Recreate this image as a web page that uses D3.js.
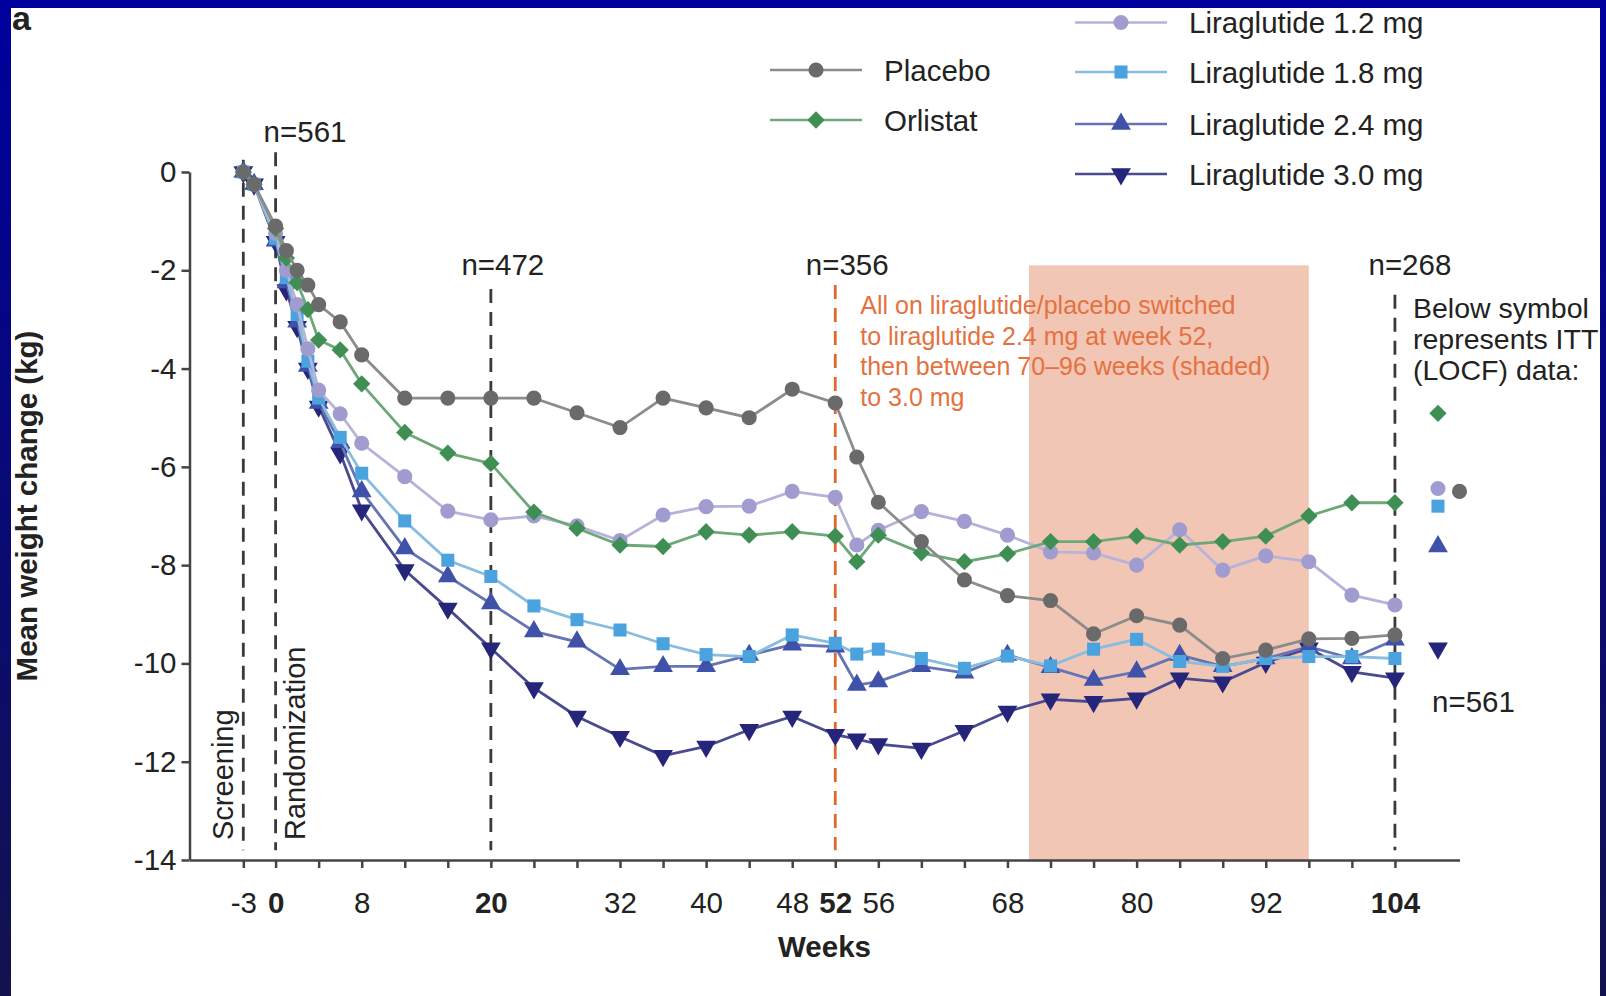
<!DOCTYPE html>
<html>
<head>
<meta charset="utf-8">
<script src="https://cdn.jsdelivr.net/npm/d3@7"></script>
<style>
  body { margin: 0; background: #fff; }
  svg { display: block; font-family: "Liberation Sans", Arial, Helvetica, sans-serif; }
</style>
</head>
<body>
<div id="chart"></div>
<script>
// visit weeks (shared by all arms)
const weeks = [-3, -2, 0, 1, 2, 3, 4, 6, 8, 12, 16, 20, 24, 28, 32, 36, 40, 44, 48, 52, 54, 56, 60, 64, 68, 72, 76, 80, 84, 88, 92, 96, 100, 104];

// mean weight change (kg)
const placebo = [0, -0.25, -1.1, -1.6, -2.0, -2.3, -2.7, -3.05, -3.72, -4.6, -4.6, -4.6, -4.6, -4.9, -5.2, -4.6, -4.8, -5.0, -4.42, -4.7, -5.8, -6.72, -7.52, -8.3, -8.62, -8.72, -9.4, -9.03, -9.22, -9.9, -9.73, -9.5, -9.49, -9.42];
const orlistat = [0, -0.25, -1.15, -1.75, -2.25, -2.8, -3.42, -3.62, -4.31, -5.3, -5.72, -5.93, -6.92, -7.25, -7.59, -7.62, -7.32, -7.39, -7.32, -7.41, -7.93, -7.39, -7.75, -7.93, -7.77, -7.52, -7.52, -7.41, -7.59, -7.52, -7.41, -7.0, -6.73, -6.73];
const lira12 = [0, -0.25, -1.25, -2.0, -2.7, -3.6, -4.44, -4.92, -5.52, -6.2, -6.9, -7.08, -7.0, -7.2, -7.5, -6.98, -6.81, -6.8, -6.5, -6.62, -7.59, -7.29, -6.91, -7.11, -7.39, -7.73, -7.75, -8.0, -7.28, -8.1, -7.81, -7.93, -8.61, -8.81];
const lira18 = [0, -0.25, -1.35, -2.15, -2.9, -3.85, -4.6, -5.4, -6.13, -7.1, -7.9, -8.23, -8.83, -9.11, -9.32, -9.6, -9.82, -9.86, -9.42, -9.59, -9.81, -9.71, -9.9, -10.1, -9.85, -10.05, -9.71, -9.51, -9.96, -10.06, -9.9, -9.86, -9.86, -9.9];
const lira24 = [0, -0.25, -1.4, -2.25, -3.05, -3.95, -4.7, -5.5, -6.5, -7.66, -8.23, -8.78, -9.35, -9.56, -10.12, -10.06, -10.06, -9.83, -9.62, -9.66, -10.44, -10.37, -10.06, -10.19, -9.83, -10.08, -10.34, -10.17, -9.83, -10.06, -9.9, -9.66, -9.9, -9.52];
const lira30 = [0, -0.25, -1.42, -2.4, -3.15, -4.0, -4.77, -5.72, -6.88, -8.1, -8.88, -9.69, -10.5, -11.08, -11.49, -11.88, -11.69, -11.35, -11.08, -11.45, -11.54, -11.64, -11.73, -11.37, -10.98, -10.73, -10.78, -10.71, -10.3, -10.38, -9.98, -9.69, -10.17, -10.3];

// ITT (LOCF) symbols to the right of week 104
const ittWeeks = { placebo: 110, orlistat: 108, lira12: 108, lira18: 108, lira24: 108, lira30: 108 };
const ittValues = { placebo: -6.5, orlistat: -4.91, lira12: -6.44, lira18: -6.8, lira24: -7.62, lira30: -9.69 };

const xTickWeeks = [-3, 0, 4, 8, 12, 16, 20, 24, 28, 32, 36, 40, 44, 48, 52, 56, 60, 64, 68, 72, 76, 80, 84, 88, 92, 96, 100, 104];
const xTickLabels = [-3, 0, 8, 20, 32, 40, 48, 52, 56, 68, 80, 92, 104];
const boldWeeks = [0, 20, 52, 104];
const yTicks = [0, -2, -4, -6, -8, -10, -12, -14];

const series = [
  { key: "lira30", name: "Liraglutide 3.0 mg", values: lira30, color: "#25257a", line: "#4a4a8e", symbol: "down" },
  { key: "lira24", name: "Liraglutide 2.4 mg", values: lira24, color: "#3f51a8", line: "#6673b5", symbol: "up" },
  { key: "lira18", name: "Liraglutide 1.8 mg", values: lira18, color: "#4aa3df", line: "#88bde0", symbol: "square" },
  { key: "lira12", name: "Liraglutide 1.2 mg", values: lira12, color: "#a09ccf", line: "#b6b3db", symbol: "circle" },
  { key: "orlistat", name: "Orlistat", values: orlistat, color: "#3f8f55", line: "#6ea878", symbol: "diamond" },
  { key: "placebo", name: "Placebo", values: placebo, color: "#6a6a6a", line: "#8c8c8c", symbol: "circle" }
];

const W = 1606, H = 996;
const svg = d3.select("#chart").append("svg").attr("width", W).attr("height", H);

svg.append("rect").attr("width", W).attr("height", H).attr("fill", "#fff");

const x = d3.scaleLinear().domain([-8, 110]).range([189.5, 1459.5]);
const y = d3.scaleLinear().domain([0, -14]).range([172, 860]);

const symbolPath = {
  circle: d3.symbol(d3.symbolCircle, 180)(),
  square: d3.symbol(d3.symbolSquare, 170)(),
  diamond: d3.symbol(d3.symbolSquare, 150)(),
  up: d3.symbol(d3.symbolTriangle, 170)(),
  down: d3.symbol(d3.symbolTriangle, 170)()
};
const symbolRot = { circle: 0, square: 0, diamond: 45, up: 0, down: 180 };

function marker(g, s, px, py) {
  g.append("path")
    .attr("d", symbolPath[s.symbol])
    .attr("transform", `translate(${px},${py}) rotate(${symbolRot[s.symbol]})`)
    .attr("fill", s.color);
}

// shaded 70-96 week period
svg.append("rect")
  .attr("x", x(70))
  .attr("y", y(-1.9))
  .attr("width", x(96) - x(70))
  .attr("height", y(-14) - y(-1.9))
  .attr("fill", "#f2c6b5");

// dashed milestone lines
const milestones = [
  { w: -3, top: 0.25, color: "#3a3a3a" },
  { w: 0, top: 0.4, color: "#3a3a3a" },
  { w: 20, top: -2.38, color: "#3a3a3a" },
  { w: 52, top: -2.3, color: "#e0682e" },
  { w: 104, top: -2.5, color: "#3a3a3a" }
];
svg.selectAll(".milestone")
  .data(milestones)
  .enter()
  .append("line")
  .attr("class", "milestone")
  .attr("x1", d => x(d.w))
  .attr("x2", d => x(d.w))
  .attr("y1", d => y(d.top))
  .attr("y2", y(-13.8))
  .attr("stroke", d => d.color)
  .attr("stroke-width", 2.8)
  .attr("stroke-dasharray", "14,9");

// axes
const xAxis = svg.append("g")
  .attr("transform", `translate(0,${y(-14)})`)
  .call(d3.axisBottom(x)
    .tickValues(xTickWeeks)
    .tickSize(8)
    .tickSizeOuter(0)
    .tickPadding(24)
    .tickFormat(d => xTickLabels.includes(d) ? String(d) : ""));
xAxis.select(".domain").attr("stroke", "#444").attr("stroke-width", 2.5);
xAxis.selectAll(".tick line").attr("stroke", "#444").attr("stroke-width", 2.5);
xAxis.selectAll(".tick text")
  .attr("fill", "#222")
  .style("font-size", "29.5px")
  .style("font-family", "Liberation Sans, Arial, sans-serif")
  .style("font-weight", d => boldWeeks.includes(d) ? "bold" : "normal");

const yAxis = svg.append("g")
  .attr("transform", `translate(${x(-8)},0)`)
  .call(d3.axisLeft(y)
    .tickValues(yTicks)
    .tickSize(8)
    .tickSizeOuter(0)
    .tickPadding(5)
    .tickFormat(d => String(d)));
yAxis.select(".domain").attr("stroke", "#444").attr("stroke-width", 2.5);
yAxis.selectAll(".tick line").attr("stroke", "#444").attr("stroke-width", 2.5);
yAxis.selectAll(".tick text")
  .attr("fill", "#222")
  .style("font-size", "29.5px")
  .style("font-family", "Liberation Sans, Arial, sans-serif");

// data lines and markers
const line = d3.line().x(d => x(d.w)).y(d => y(d.v));
series.forEach(s => {
  const pts = weeks.map((w, i) => ({ w: w, v: s.values[i] }));
  svg.append("path")
    .datum(pts)
    .attr("fill", "none")
    .attr("stroke", s.line)
    .attr("stroke-width", 2.8)
    .attr("d", line);
  const g = svg.append("g");
  pts.forEach(p => marker(g, s, x(p.w), y(p.v)));
  marker(g, s, x(ittWeeks[s.key]), y(ittValues[s.key]));
});

// text helper
function label(txt, px, py, opts) {
  opts = opts || {};
  return svg.append("text")
    .attr("x", px)
    .attr("y", py)
    .attr("fill", opts.fill || "#222")
    .attr("text-anchor", opts.anchor || "start")
    .style("font-size", (opts.size || 29.5) + "px")
    .style("font-weight", opts.weight || "normal")
    .text(txt);
}

// n annotations
label("n=561", x(0) - 12, 142);
label("n=472", x(20) + 12, 275, { anchor: "middle" });
label("n=356", x(52) + 12, 275, { anchor: "middle" });
label("n=268", x(104) + 15, 275, { anchor: "middle" });
label("n=561", 1432, 712);

// switch annotation
const noteLines = [
  "All on liraglutide/placebo switched",
  "to liraglutide 2.4 mg at week 52,",
  "then between 70\u201396 weeks (shaded)",
  "to 3.0 mg"
];
noteLines.forEach((t, i) => label(t, x(52) + 25, 314 + i * 30.7, { size: 25, fill: "#e5713f" }));

// ITT note
["Below symbol", "represents ITT", "(LOCF) data:"].forEach((t, i) => label(t, 1413, 318 + i * 31, { size: 28.5 }));

// rotated labels
svg.append("text")
  .attr("transform", `translate(${x(-3) - 10},840) rotate(-90)`)
  .attr("fill", "#222")
  .style("font-size", "29px")
  .text("Screening");
svg.append("text")
  .attr("transform", `translate(${x(0) + 29},840) rotate(-90)`)
  .attr("fill", "#222")
  .style("font-size", "29px")
  .text("Randomization");
svg.append("text")
  .attr("transform", `translate(37,${(y(0) + y(-14)) / 2 - 10}) rotate(-90)`)
  .attr("text-anchor", "middle")
  .attr("fill", "#222")
  .style("font-size", "29.5px")
  .style("font-weight", "bold")
  .text("Mean weight change (kg)");

label("Weeks", (x(-8) + x(110)) / 2, 957, { anchor: "middle", weight: "bold" });

// legend
const legendRows = [
  { key: "placebo", lx: 770, ty: 70 },
  { key: "orlistat", lx: 770, ty: 120 },
  { key: "lira12", lx: 1075, ty: 22.5 },
  { key: "lira18", lx: 1075, ty: 72 },
  { key: "lira24", lx: 1075, ty: 124 },
  { key: "lira30", lx: 1075, ty: 174 }
];
legendRows.forEach(r => {
  const s = series.find(d => d.key === r.key);
  svg.append("line")
    .attr("x1", r.lx).attr("x2", r.lx + 92)
    .attr("y1", r.ty).attr("y2", r.ty)
    .attr("stroke", s.line)
    .attr("stroke-width", 2.6);
  marker(svg, s, r.lx + 46, r.ty);
  label(s.name, r.lx + 114, r.ty + 10.5);
});

// panel letter
label("a", 12, 30, { size: 34, weight: "bold", fill: "#222" });

// blue slide frame drawn over the edges
const defs = svg.append("defs");
const grad = defs.append("linearGradient")
  .attr("id", "frame")
  .attr("x1", 0).attr("y1", 0).attr("x2", 0).attr("y2", 1);
grad.append("stop").attr("offset", "0%").attr("stop-color", "#00009e");
grad.append("stop").attr("offset", "100%").attr("stop-color", "#12124e");
svg.append("rect").attr("x", 0).attr("y", 0).attr("width", 11).attr("height", H).attr("fill", "url(#frame)");
svg.append("rect").attr("x", 1600).attr("y", 0).attr("width", 6).attr("height", H).attr("fill", "url(#frame)");
svg.append("rect").attr("x", 0).attr("y", 0).attr("width", W).attr("height", 8).attr("fill", "#00009e");
</script>
</body>
</html>
